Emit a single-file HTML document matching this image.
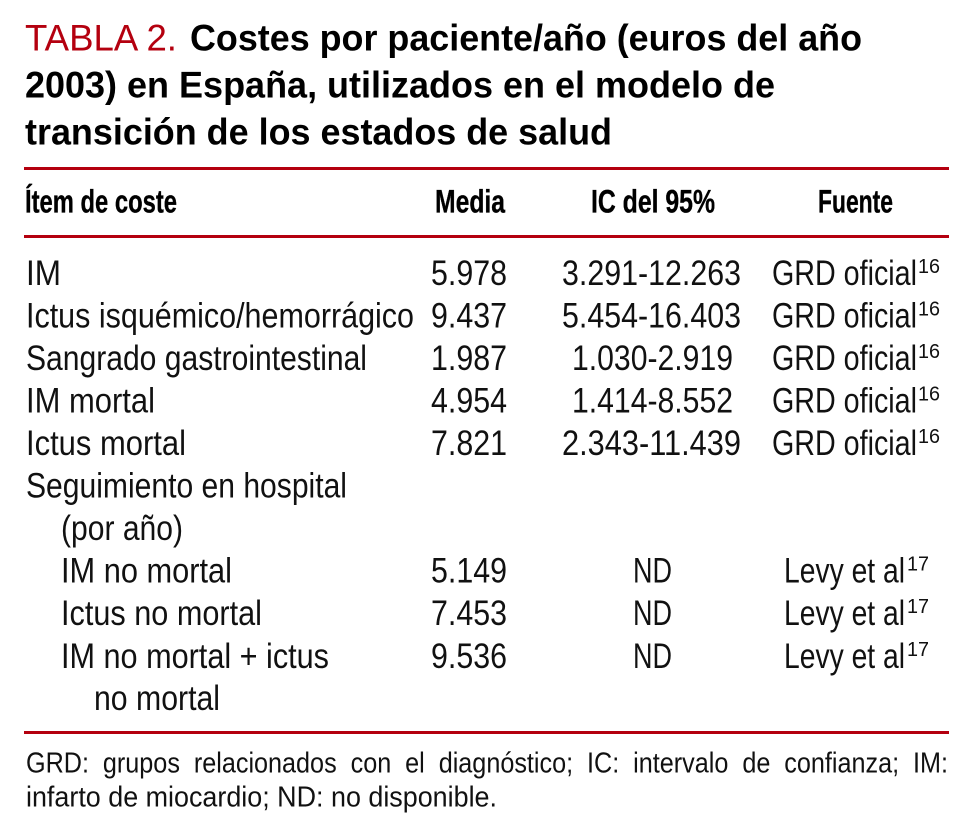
<!DOCTYPE html>
<html lang="es">
<head>
<meta charset="utf-8">
<title>Tabla 2. Costes por paciente/año</title>
<style>
html,body{margin:0;padding:0;background:#fff;}
svg{display:block;}
text{font-family:"Liberation Sans",sans-serif;fill:#111;}
.t{font-size:37px;font-weight:700;fill:#000;}
.r{font-size:37px;fill:#b4000f;}
.h{font-size:32px;font-weight:700;fill:#000;stroke:#000;stroke-width:.35px;}
.c{font-size:35px;}
.s{font-size:20px;}
.f{font-size:29px;}
</style>
</head>
<body>
<svg width="978" height="834" viewBox="0 0 978 834" xmlns="http://www.w3.org/2000/svg">
<rect width="978" height="834" fill="#fff"/>
<g>
<text class="r" x="25" y="50.5" textLength="152" lengthAdjust="spacingAndGlyphs">TABLA 2.</text>
<text class="t" x="190" y="50.5" textLength="672" lengthAdjust="spacingAndGlyphs">Costes por paciente/año (euros del año</text>
<text class="t" x="25" y="97.5" textLength="750" lengthAdjust="spacingAndGlyphs">2003) en España, utilizados en el modelo de</text>
<text class="t" x="25" y="144.5" textLength="587" lengthAdjust="spacingAndGlyphs">transición de los estados de salud</text>
</g>
<rect x="24" y="167" width="925" height="3" fill="#b4000f"/>
<rect x="24" y="235" width="925" height="3" fill="#b4000f"/>
<rect x="24" y="731" width="925" height="3" fill="#b4000f"/>
<g>
<text class="h" x="25" y="212.5" textLength="152" lengthAdjust="spacingAndGlyphs">Ítem de coste</text>
<text class="h" x="435" y="212.5" textLength="70" lengthAdjust="spacingAndGlyphs">Media</text>
<text class="h" x="591" y="212.5" textLength="124" lengthAdjust="spacingAndGlyphs">IC del 95%</text>
<text class="h" x="818" y="212.5" textLength="75" lengthAdjust="spacingAndGlyphs">Fuente</text>
</g>
<g>
<text class="c" x="26" y="285" textLength="35" lengthAdjust="spacingAndGlyphs">IM</text>
<text class="c" x="431" y="285" textLength="76" lengthAdjust="spacingAndGlyphs">5.978</text>
<text class="c" x="562" y="285" textLength="179" lengthAdjust="spacingAndGlyphs">3.291-12.263</text>
<text class="c" x="772" y="285" textLength="145" lengthAdjust="spacingAndGlyphs">GRD oficial</text>
<text class="s" x="918" y="273" textLength="22" lengthAdjust="spacingAndGlyphs">16</text>
</g>
<g>
<text class="c" x="26" y="327.5" textLength="388" lengthAdjust="spacingAndGlyphs">Ictus isquémico/hemorrágico</text>
<text class="c" x="431" y="327.5" textLength="76" lengthAdjust="spacingAndGlyphs">9.437</text>
<text class="c" x="562" y="327.5" textLength="179" lengthAdjust="spacingAndGlyphs">5.454-16.403</text>
<text class="c" x="772" y="327.5" textLength="145" lengthAdjust="spacingAndGlyphs">GRD oficial</text>
<text class="s" x="918" y="315.5" textLength="22" lengthAdjust="spacingAndGlyphs">16</text>
</g>
<g>
<text class="c" x="26" y="370" textLength="341" lengthAdjust="spacingAndGlyphs">Sangrado gastrointestinal</text>
<text class="c" x="431" y="370" textLength="76" lengthAdjust="spacingAndGlyphs">1.987</text>
<text class="c" x="572" y="370" textLength="161" lengthAdjust="spacingAndGlyphs">1.030-2.919</text>
<text class="c" x="772" y="370" textLength="145" lengthAdjust="spacingAndGlyphs">GRD oficial</text>
<text class="s" x="918" y="358" textLength="22" lengthAdjust="spacingAndGlyphs">16</text>
</g>
<g>
<text class="c" x="26" y="412.5" textLength="129" lengthAdjust="spacingAndGlyphs">IM mortal</text>
<text class="c" x="431" y="412.5" textLength="76" lengthAdjust="spacingAndGlyphs">4.954</text>
<text class="c" x="572" y="412.5" textLength="161" lengthAdjust="spacingAndGlyphs">1.414-8.552</text>
<text class="c" x="772" y="412.5" textLength="145" lengthAdjust="spacingAndGlyphs">GRD oficial</text>
<text class="s" x="918" y="400.5" textLength="22" lengthAdjust="spacingAndGlyphs">16</text>
</g>
<g>
<text class="c" x="26" y="455" textLength="160" lengthAdjust="spacingAndGlyphs">Ictus mortal</text>
<text class="c" x="431" y="455" textLength="76" lengthAdjust="spacingAndGlyphs">7.821</text>
<text class="c" x="562" y="455" textLength="179" lengthAdjust="spacingAndGlyphs">2.343-11.439</text>
<text class="c" x="772" y="455" textLength="145" lengthAdjust="spacingAndGlyphs">GRD oficial</text>
<text class="s" x="918" y="443" textLength="22" lengthAdjust="spacingAndGlyphs">16</text>
</g>
<g>
<text class="c" x="26" y="497.5" textLength="321" lengthAdjust="spacingAndGlyphs">Seguimiento en hospital</text>
<text class="c" x="61" y="540" textLength="122" lengthAdjust="spacingAndGlyphs">(por año)</text>
</g>
<g>
<text class="c" x="61" y="582.5" textLength="171" lengthAdjust="spacingAndGlyphs">IM no mortal</text>
<text class="c" x="431" y="582.5" textLength="76" lengthAdjust="spacingAndGlyphs">5.149</text>
<text class="c" x="633" y="582.5" textLength="39" lengthAdjust="spacingAndGlyphs">ND</text>
<text class="c" x="784" y="582.5" textLength="121" lengthAdjust="spacingAndGlyphs">Levy et al</text>
<text class="s" x="907" y="570.5" textLength="22" lengthAdjust="spacingAndGlyphs">17</text>
</g>
<g>
<text class="c" x="61" y="625" textLength="201" lengthAdjust="spacingAndGlyphs">Ictus no mortal</text>
<text class="c" x="431" y="625" textLength="76" lengthAdjust="spacingAndGlyphs">7.453</text>
<text class="c" x="633" y="625" textLength="39" lengthAdjust="spacingAndGlyphs">ND</text>
<text class="c" x="784" y="625" textLength="121" lengthAdjust="spacingAndGlyphs">Levy et al</text>
<text class="s" x="907" y="613" textLength="22" lengthAdjust="spacingAndGlyphs">17</text>
</g>
<g>
<text class="c" x="61" y="668" textLength="268" lengthAdjust="spacingAndGlyphs">IM no mortal + ictus</text>
<text class="c" x="94" y="710" textLength="126" lengthAdjust="spacingAndGlyphs">no mortal</text>
<text class="c" x="431" y="668" textLength="76" lengthAdjust="spacingAndGlyphs">9.536</text>
<text class="c" x="633" y="668" textLength="39" lengthAdjust="spacingAndGlyphs">ND</text>
<text class="c" x="784" y="668" textLength="121" lengthAdjust="spacingAndGlyphs">Levy et al</text>
<text class="s" x="907" y="656" textLength="22" lengthAdjust="spacingAndGlyphs">17</text>
</g>
<g>
<text class="f" x="26" y="772.5" textLength="922" lengthAdjust="spacingAndGlyphs" style="word-spacing:8px">GRD: grupos relacionados con el diagnóstico; IC: intervalo de confianza; IM:</text>
<text class="f" x="26" y="806.5" textLength="471" lengthAdjust="spacingAndGlyphs">infarto de miocardio; ND: no disponible.</text>
</g>
</svg>
</body>
</html>
